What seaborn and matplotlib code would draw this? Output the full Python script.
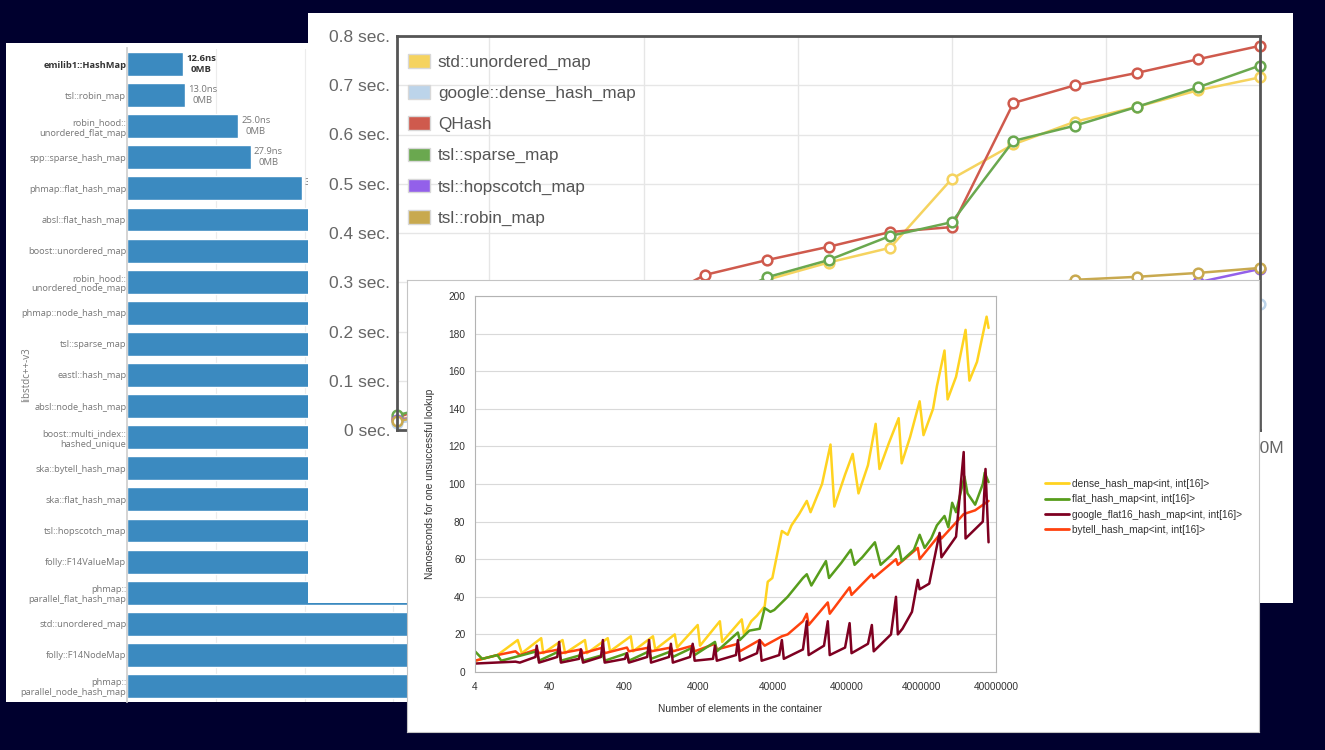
import matplotlib
matplotlib.use("Agg")
import matplotlib.pyplot as plt
import seaborn as sns
from matplotlib.patches import Patch
from matplotlib.lines import Line2D
from matplotlib.transforms import ScaledTranslation

# ---------------- left: lookup time per map ----------------
bar_names = [
    "emilib1::HashMap", "tsl::robin_map", "robin_hood::\nunordered_flat_map",
    "spp::sparse_hash_map", "phmap::flat_hash_map", "absl::flat_hash_map",
    "boost::unordered_map", "robin_hood::\nunordered_node_map",
    "phmap::node_hash_map", "tsl::sparse_map", "eastl::hash_map",
    "absl::node_hash_map", "boost::multi_index::\nhashed_unique",
    "ska::bytell_hash_map", "ska::flat_hash_map", "tsl::hopscotch_map",
    "folly::F14ValueMap", "phmap::\nparallel_flat_hash_map",
    "std::unordered_map", "folly::F14NodeMap", "phmap::\nparallel_node_hash_map",
]
bar_ns = [12.6, 13.0, 25.0, 27.9, 39.4, 44.0, 46.5, 48.2, 51.0, 53.7, 55.1,
          57.9, 60.3, 61.2, 62.0, 62.4, 62.8, 66.0, 71.5, 78.3, 84.6]
bar_mb = [0, 0, 0, 0, 0, 0, 0, 0, 0, 0, 0, 0, 0, 0, 0, 0, 0, 0, 0, 0, 0]

# ---------------- top right: total time vs size ----------------
top_sizes = [2, 4, 6, 8, 10, 12, 14, 16, 18, 20, 22, 24, 26, 28, 30]  # millions
top_ticks = [5, 10, 15, 20, 25, 30]
top_tick_labels = ["5M", "10M", "15M", "20M", "25M", "30M"]
sec_ticks = [0, 0.1, 0.2, 0.3, 0.4, 0.5, 0.6, 0.7, 0.8]
sec_labels = ["0 sec.", "0.1 sec.", "0.2 sec.", "0.3 sec.", "0.4 sec.",
              "0.5 sec.", "0.6 sec.", "0.7 sec.", "0.8 sec."]
top_names = ["std::unordered_map", "google::dense_hash_map", "QHash",
             "tsl::sparse_map", "tsl::hopscotch_map", "tsl::robin_map"]
top_colors = ["#f5d35f", "#bcd4ea", "#cf5a4d", "#6aa84f", "#9360ea", "#c8a94f"]
std_sec = [0.02, 0.05, 0.09, 0.13, 0.18, 0.26, 0.305, 0.34, 0.37, 0.51, 0.58, 0.626, 0.656, 0.69, 0.716]
dense_sec = [0.015, 0.03, 0.05, 0.07, 0.09, 0.11, 0.12, 0.14, 0.15, 0.17, 0.19, 0.21, 0.22, 0.24, 0.256]
qhash_sec = [0.025, 0.07, 0.12, 0.18, 0.25, 0.315, 0.345, 0.372, 0.402, 0.412, 0.664, 0.70, 0.725, 0.753, 0.78]
sparse_sec = [0.03, 0.06, 0.10, 0.14, 0.19, 0.25, 0.31, 0.345, 0.394, 0.422, 0.587, 0.618, 0.656, 0.696, 0.74]
hop_sec = [0.02, 0.04, 0.06, 0.08, 0.10, 0.12, 0.14, 0.16, 0.18, 0.20, 0.23, 0.26, 0.28, 0.30, 0.327]
robin_sec = [0.018, 0.04, 0.07, 0.10, 0.13, 0.16, 0.19, 0.22, 0.25, 0.27, 0.28, 0.305, 0.311, 0.319, 0.329]
top_values = [std_sec, dense_sec, qhash_sec, sparse_sec, hop_sec, robin_sec]

# ---------------- bottom: unsuccessful lookup ----------------
dense_n = [4, 8, 15, 17, 31, 33, 60, 65, 120, 128, 243, 261, 495, 531, 984, 1057,
           1932, 2075, 3928, 4218, 7800, 8380, 15350, 16470, 20600, 24600, 31200,
           34300, 39560, 47200, 53100, 63500, 71500, 90500, 114800, 129000, 184000,
           239000, 269000, 375000, 475000, 568000, 762000, 966000, 1087000, 1462000,
           1968000, 2163000, 2806000, 3770000, 4246000, 5706000, 6426000, 8131000,
           8955000, 11620000, 15610000, 17580000, 22240000, 29910000, 31750000]
dense_ns = [6, 9, 17, 10, 18, 10, 17, 10, 17, 10, 18, 11, 19, 11, 19, 12, 20, 13, 25,
            14, 27, 16, 28, 20, 27, 30, 35, 48, 50, 65, 75, 73, 78, 84, 91, 85, 100,
            121, 88, 105, 116, 95, 110, 132, 108, 122, 135, 111, 125, 144, 126, 140,
            152, 171, 145, 157, 182, 155, 165, 189, 183]
flat_n = [4, 5, 8, 9, 14, 27, 29, 54, 57, 106, 113, 209, 221, 440, 467, 873, 927,
          1715, 1820, 3366, 3573, 6700, 7098, 13620, 14450, 19400, 26730, 31200,
          37240, 41980, 63500, 101900, 114800, 132200, 207500, 228100, 332700,
          447800, 503600, 638400, 944000, 1127000, 1553000, 1968000, 2163000,
          3156000, 3768000, 4396000, 5383000, 6426000, 8131000, 9163000, 10310000,
          11620000, 15070000, 16560000, 20990000, 26610000, 28190000, 31770000]
flat_ns = [11, 7, 9, 6, 8, 11, 6, 11, 6, 9, 6, 9, 6, 10, 6, 11, 7, 11, 8, 13, 9, 16,
           11, 21, 17, 22, 23, 34, 32, 33, 40, 50, 52, 46, 59, 50, 58, 65, 57, 61,
           69, 57, 62, 67, 59, 65, 73, 66, 71, 78, 83, 77, 90, 85, 104, 95, 89, 100,
           106, 101]
flat16_n = [4, 14, 16, 26, 27, 29, 51, 54, 57, 100, 106, 113, 197, 209, 221, 414,
            440, 467, 824, 873, 927, 1619, 1715, 1820, 3097, 3366, 3573, 6310, 6700,
            7098, 12820, 13620, 14450, 24610, 26730, 28380, 48870, 53090, 56370,
            101900, 114800, 121600, 195500, 219800, 233400, 375000, 431600, 458200,
            762200, 859100, 910000, 1553000, 1812000, 1919000, 2214000, 2972000,
            3557000, 3768000, 5071000, 6984000, 7396000, 11620000, 14720000,
            15600000, 20990000, 26610000, 28910000, 31770000]
flat16_ns = [4.5, 5.5, 5, 8, 14, 5, 8, 16, 5, 7, 12, 5, 8, 17, 5, 7, 10, 5, 8, 17, 5,
             8, 15, 5, 8, 15, 6, 7, 14, 6, 9, 17, 6, 10, 17, 6, 9, 17, 7, 12, 27, 9,
             14, 27, 9, 13, 26, 10, 15, 25, 11, 20, 40, 20, 23, 32, 49, 44, 47, 74,
             61, 72, 117, 71, 76, 80, 108, 69]
bytell_n = [4, 8, 14, 16, 27, 29, 54, 57, 106, 113, 209, 221, 440, 467, 873, 927,
            1715, 1820, 3366, 3573, 6700, 7098, 13620, 14450, 26730, 31200, 53090,
            63500, 101900, 114800, 121600, 219800, 233400, 431600, 458200, 859100,
            910000, 1812000, 1919000, 3557000, 3768000, 6984000, 7396000, 14720000,
            20990000, 31770000]
bytell_ns = [6, 9, 11, 9, 12, 10, 12, 10, 12, 10, 13, 10, 13, 11, 13, 11, 13, 11, 14,
             11, 15, 12, 15, 11, 17, 14, 19, 20, 27, 31, 25, 37, 31, 45, 41, 52, 50,
             60, 57, 66, 60, 73, 71, 84, 86, 91]
bot_names = ["dense_hash_map<int, int[16]>", "flat_hash_map<int, int[16]>",
             "google_flat16_hash_map<int, int[16]>", "bytell_hash_map<int, int[16]>"]
bot_colors = ["#ffd320", "#579d1c", "#7e0021", "#ff420e"]
bot_ticks = [4, 40, 400, 4000, 40000, 400000, 4000000, 40000000]
bot_tick_labels = ["4", "40", "400", "4000", "40000", "400000", "4000000", "40000000"]
ns_ticks = [0, 20, 40, 60, 80, 100, 120, 140, 160, 180, 200]

sns.set_theme(style="white")
plt.rcParams['font.family'] = ['Liberation Sans', 'DejaVu Sans']

W, H = 1325, 750


def rect(x0, y0, x1, y1):
    return [x0 / W, 1 - y1 / H, (x1 - x0) / W, (y1 - y0) / H]


fig = plt.figure(figsize=(W / 100, H / 100), dpi=100, facecolor="#00002e")


def panel(r, edge=None):
    p = fig.add_axes(r)
    p.set_xticks([])
    p.set_yticks([])
    p.set_facecolor("white")
    for s in p.spines.values():
        if edge:
            s.set_color(edge)
            s.set_linewidth(0.8)
        else:
            s.set_visible(False)
    return p


# left panel
panel(rect(6, 43, 420, 702))
ax1 = fig.add_axes(rect(127, 48.5, 407, 701.5))
ax1.set_facecolor("none")
sns.barplot(x=bar_ns, y=bar_names, orient="h", color="#3b8ac0",
            saturation=1, width=0.77, ax=ax1)
ax1.set_xlim(0, 63.06)
ax1.set_xticks([20, 40, 60])
ax1.set_xticklabels([])
ax1.grid(axis="x", color="#ececec", lw=0.8)
ax1.set_axisbelow(True)
for k, s in ax1.spines.items():
    s.set_visible(k == "left")
ax1.spines["left"].set_color("#cfcfcf")
ax1.tick_params(length=0)
ax1.tick_params(axis="y", pad=0.5)
ax1.set_yticks(range(len(bar_names)))
ax1.set_yticklabels(bar_names, fontsize=6.7, color="#777777", family="Open Sans")
first = ax1.get_yticklabels()[0]
first.set_fontweight("bold")
first.set_color("#333333")
for i, (v, m) in enumerate(zip(bar_ns, bar_mb)):
    t = ax1.text(v + 0.7, i, f"{v:.1f}ns\n{m}MB", va="center", ha="left",
                 multialignment="center", fontsize=6.8, color="#777777",
                 family="Open Sans", clip_on=True, linespacing=1.3)
    if i == 0:
        t.set_fontweight("bold")
        t.set_color("#333333")
ax1.set_ylabel("libstdc++-v3", fontsize=7, color="#777777", family="Open Sans")
ax1.yaxis.set_label_coords(-0.339, 0.5)
ax1.set_xlabel("")

# top right panel
panel(rect(308, 13, 1293, 603))
ax2 = fig.add_axes(rect(397, 36, 1260, 430))
for vals, c in zip(top_values, top_colors):
    sns.lineplot(x=top_sizes, y=vals, ax=ax2, color=c, lw=1.8, marker="o",
                 markersize=7, markerfacecolor="white", markeredgecolor=c,
                 markeredgewidth=1.8, clip_on=False, legend=False)
ax2.set_xlim(2, 30)
ax2.set_ylim(0, 0.8)
ax2.set_xticks(top_ticks)
ax2.set_xticklabels(top_tick_labels)
ax2.set_yticks(sec_ticks)
ax2.set_yticklabels(sec_labels)
ax2.tick_params(length=0, labelsize=12.5, labelcolor="#666666")
ax2.tick_params(axis="y", pad=5)
ax2.tick_params(axis="x", pad=8)
for lbl in ax2.get_xticklabels():
    lbl.set_transform(lbl.get_transform() + ScaledTranslation(0.07, 0, fig.dpi_scale_trans))
ax2.grid(True, color="#e6e6e6", lw=1)
for s in ax2.spines.values():
    s.set_color("#555555")
    s.set_linewidth(2)
handles2 = [Patch(facecolor=c, edgecolor="#d8d8d8", lw=1) for c in top_colors]
ax2.legend(handles2, top_names, loc="upper left",
           bbox_to_anchor=((408 - 397) / 863, 1 - (54 - 36) / 394),
           frameon=False, fontsize=12.3, labelcolor="#555555",
           handlelength=1.3, handleheight=0.85, handletextpad=0.45,
           labelspacing=0.9, borderpad=0, borderaxespad=0)

# bottom panel
panel(rect(407, 280, 1259, 732), edge="#c4c4c4")
ax3 = fig.add_axes(rect(475, 296, 996, 672))
ax3.set_xscale("log")
bot_x = [dense_n, flat_n, flat16_n, bytell_n]
bot_y = [dense_ns, flat_ns, flat16_ns, bytell_ns]
for i in [0, 3, 1, 2]:
    sns.lineplot(x=bot_x[i], y=bot_y[i], ax=ax3, color=bot_colors[i], lw=1.8,
                 legend=False)
ax3.set_xlim(4, 40000000)
ax3.set_ylim(0, 200)
ax3.set_xticks(bot_ticks)
ax3.set_xticklabels(bot_tick_labels)
ax3.minorticks_off()
ax3.set_yticks(ns_ticks)
ax3.tick_params(length=3, color="#b3b3b3", labelsize=7.3, labelcolor="#333333", pad=4)
ax3.grid(axis="y", color="#d9d9d9", lw=0.8)
for s in ax3.spines.values():
    s.set_color("#b3b3b3")
    s.set_linewidth(0.8)
ax3.set_xlabel("Number of elements in the container", fontsize=7.3, color="#333333")
ax3.xaxis.set_label_coords(0.509, -0.085)
ax3.set_ylabel("Nanoseconds for one unsuccessful lookup", fontsize=7.3, color="#333333")
ax3.yaxis.set_label_coords(-0.077, 0.5)
handles3 = [Line2D([], [], color=c, lw=2) for c in bot_colors]
ax3.legend(handles3, bot_names, loc="upper left",
           bbox_to_anchor=(1045 / W, 1 - 479 / H), bbox_transform=fig.transFigure,
           frameon=False, fontsize=7.3, labelcolor="#333333", handlelength=2.4,
           handletextpad=0.3, labelspacing=0.52, borderpad=0, borderaxespad=0)

fig.savefig("out.png", dpi=100, facecolor=fig.get_facecolor())
